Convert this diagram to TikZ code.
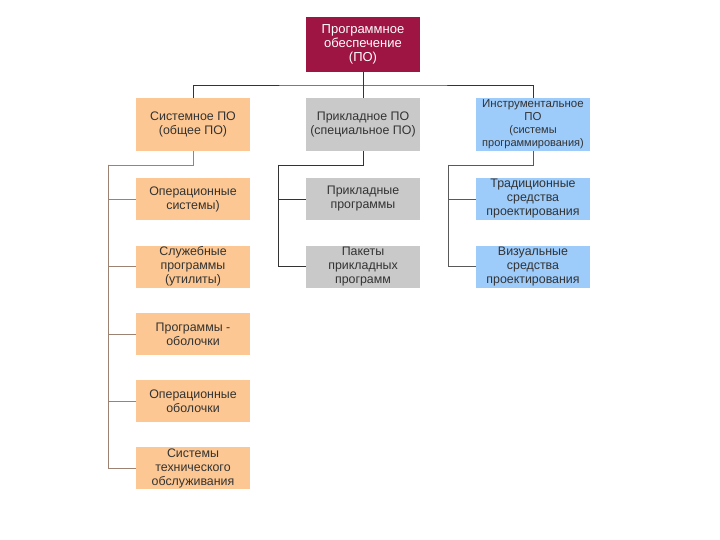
\documentclass[tikz,border=0pt]{standalone}
\usepackage{fontspec}
\setmainfont{Liberation Sans}
\usepackage{tikz}
\usetikzlibrary{positioning}
\definecolor{poRed}{HTML}{9E1442}
\definecolor{sysOrange}{HTML}{FCC792}
\definecolor{appGray}{HTML}{C9C9C9}
\definecolor{toolBlue}{HTML}{9DCBFA}
\definecolor{sysLine}{HTML}{9C8272}
\definecolor{busLine}{HTML}{4A2A30}

\begin{document}
\begin{tikzpicture}[x=1pt, y=-1pt,
  font=\fontsize{12.4}{14}\selectfont,
  box/.style={rectangle, minimum width=114pt, inner sep=1pt, align=center, text=black!80},
  head/.style={box, minimum height=55pt, fill=poRed, text=white, font=\fontsize{13}{14}\selectfont},
  cat/.style={box, minimum height=53pt},
  item/.style={box, minimum height=42pt},
  sys/.style={fill=sysOrange},
  app/.style={fill=appGray},
  tool/.style={fill=toolBlue}]
\useasboundingbox (0,0) rectangle (720,540);
% root
\node[head] (PO) at (363,44.5) {Программное\\ обеспечение\\ (ПО)};
% categories
\node[cat, sys] (S) at (193,124.5) {Системное ПО\\ (общее ПО)};
\node[cat, app] (P) at (363,124.5) {Прикладное ПО\\ (специальное ПО)};
\node[cat, tool, font=\fontsize{11.5}{13}\selectfont] (I) at (533,124.5)
  {Инструментальное\\ ПО\\ {\fontsize{11}{13}\selectfont (системы}\\ {\fontsize{11}{13}\selectfont программирования)}};
% system software
\node[item, sys] (S1) at (193,199) {Операционные\\ системы)};
\node[item, sys] (S2) at (193,266.5) {Служебные\\ программы\\ (утилиты)};
\node[item, sys] (S3) at (193,334) {Программы -\\ оболочки};
\node[item, sys] (S4) at (193,401) {Операционные\\ оболочки};
\node[item, sys] (S5) at (193,468) {Системы\\ технического\\ обслуживания};
% application software
\node[item, app] (P1) at (363,199) {Прикладные\\ программы};
\node[item, app] (P2) at (363,266.5) {Пакеты\\ прикладных\\ программ};
% tools
\node[item, tool] (I1) at (533,199) {Традиционные\\ средства\\ проектирования};
\node[item, tool] (I2) at (533,266.5) {Визуальные\\ средства\\ проектирования};
% junctions
\coordinate (bus) at (363,85);
\coordinate (Sj) at (108,165);
\coordinate (Pj) at (278,165);
\coordinate (Ij) at (448,165);
\draw[busLine, semithick] (PO) -- (bus);
\draw[busLine, semithick] (S.north) |- (bus) -| (I.north);
\draw[busLine, semithick] (bus) -- (P.north);
\draw[sysLine, semithick] (S.south) |- (Sj);
\foreach \k in {1,...,5}
  \draw[sysLine, semithick] (Sj) |- (S\k.west);
\draw[black!80, semithick] (P.south) |- (Pj);
\foreach \k in {1,2}
  \draw[black!80, semithick] (Pj) |- (P\k.west);
\draw[black!65, semithick] (I.south) |- (Ij);
\foreach \k in {1,2}
  \draw[black!65, semithick] (Ij) |- (I\k.west);
\end{tikzpicture}
\end{document}
